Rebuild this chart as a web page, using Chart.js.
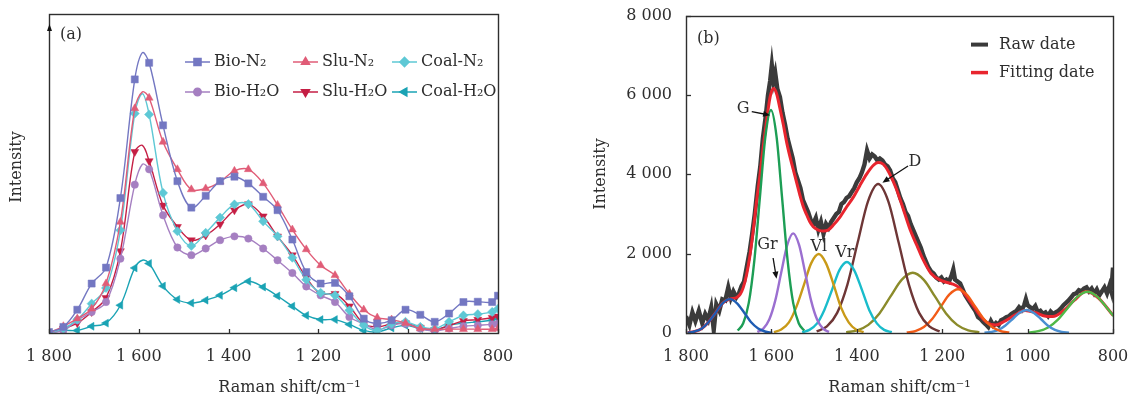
<!DOCTYPE html>
<html><head><meta charset="utf-8">
<script src="https://cdn.jsdelivr.net/npm/chart.js@4.4.1/dist/chart.umd.min.js"></script>
<style>
html,body{margin:0;padding:0;background:#fff;}
#wrap{position:relative;width:1130px;height:399px;overflow:hidden;}
#ca{position:absolute;left:0;top:0;}
#cb{position:absolute;left:560px;top:0;}
</style></head><body>
<div id="wrap">
<canvas id="ca" width="520" height="399"></canvas>
<canvas id="cb" width="570" height="399"></canvas>
</div>
<script>
// ---------------- Panel (a) data ----------------
const shiftA = [1800,1768,1737,1705,1673,1641,1609,1592,1577,1546,1514,1483,1451,1419,1387,1356,1323,1291,1258,1227,1195,1163,1131,1099,1069,1037,1006,973,941,909,877,845,813,800];
const unmarkedIndex = 7; // curve apex between two markers
const bioN2   = [0.3,1.9,7.3,15.5,20.5,42.3,79.5,87.9,84.7,65.1,47.6,39.3,43.0,47.6,49.0,46.9,42.7,38.5,29.3,19.1,15.5,15.7,11.5,4.5,3.0,4.0,7.3,5.7,3.5,6.1,9.7,9.8,9.7,11.7];
const sluN2   = [0,2.1,4.5,7.6,15.5,34.8,70.4,75.6,73.7,59.9,51.3,45.0,45.3,47.4,50.8,51.3,46.9,40.1,32.4,26.2,21.2,18.1,12.3,7.3,4.8,4.2,3.1,1.4,1.2,1.2,1.2,1.2,1.2,1.4];
const coalN2  = [0,1.4,4.2,9.2,14.1,32.2,68.8,75.0,68.5,43.9,31.9,27.3,31.4,36.2,40.3,40.4,35.0,30.3,23.6,16.7,12.6,11.8,7.1,2.4,0.8,2.9,3.5,1.9,1.4,3.5,5.5,5.9,6.6,7.6];
const bioH2O  = [0,0.8,4.0,6.6,9.7,23.3,46.5,52.9,51.3,36.9,26.8,24.4,26.5,29.1,30.3,29.6,26.5,22.8,18.8,14.6,11.8,9.7,5.0,2.9,1.0,2.4,2.9,1.4,0.6,1.4,2.1,2.4,2.7,2.9];
const sluH2O  = [0,1.4,3.1,6.6,11.0,25.7,56.8,58.8,53.9,40.0,33.3,29.1,30.6,34.1,38.5,40.4,36.6,30.3,24.4,17.4,12.3,12.3,8.4,2.9,1.9,2.9,3.1,1.7,1.0,2.3,3.8,4.2,4.8,5.2];
const coalH2O = [0,0.8,0.8,2.1,3.1,8.7,20.4,22.8,21.8,14.7,10.5,9.4,10.3,11.8,14.2,16.2,14.4,11.6,8.4,5.5,4.2,4.2,2.7,0.8,0.3,1.6,2.4,1.4,0.8,2.4,3.1,3.5,4.0,4.5];
const labelsA = ['Bio-N₂','Slu-N₂','Coal-N₂','Bio-H₂O','Slu-H₂O','Coal-H₂O'];

// ---------------- Panel (b) data ----------------
const rawShift = [1800,1792,1785,1778,1770,1762,1755,1748,1741,1735,1729,1722,1715,1708,1701,1695,1689,1682,1676,1670,1664,1658,1651,1645,1639,1632,1626,1620,1614,1608,1603,1599,1595,1591,1586,1580,1574,1568,1562,1556,1550,1544,1538,1532,1526,1520,1514,1508,1502,1496,1490,1484,1478,1472,1466,1460,1454,1448,1442,1436,1430,1424,1418,1412,1406,1400,1394,1388,1382,1376,1370,1364,1358,1352,1346,1340,1334,1328,1322,1316,1310,1304,1298,1292,1286,1280,1274,1268,1262,1256,1250,1244,1238,1232,1226,1220,1214,1208,1202,1196,1190,1184,1178,1174,1170,1164,1158,1152,1146,1140,1134,1128,1122,1116,1110,1104,1098,1092,1086,1080,1074,1068,1062,1056,1050,1044,1038,1032,1026,1020,1014,1008,1004,1000,994,988,982,976,970,964,958,952,946,940,934,928,922,916,910,904,898,892,886,880,874,868,862,856,850,844,838,832,826,820,814,808,804,800];
const rawIntensity = [420,200,520,300,560,250,480,330,640,80,720,560,850,820,1150,880,1050,900,1000,1180,1300,1650,2050,2500,3000,3700,4200,4900,5400,6000,6350,6750,6350,6550,6150,5950,5550,5250,4900,4650,4400,4050,3850,3650,3350,3200,3050,2850,2750,2900,2600,2800,2500,2750,2650,2800,2900,3000,3050,3250,3300,3400,3450,3550,3650,3800,3900,4050,4250,4600,4400,4500,4450,4350,4400,4350,4250,4200,4100,3900,3800,3600,3400,3250,3050,2950,2750,2600,2450,2300,2150,1950,1800,1650,1550,1500,1400,1350,1400,1300,1350,1300,1450,1600,1350,1300,1250,1100,950,850,750,650,550,400,350,280,220,150,300,180,250,200,320,350,400,420,480,520,560,650,580,700,850,700,650,600,680,520,560,480,520,430,540,470,520,560,620,700,760,820,900,980,1000,1080,1050,1120,1150,1050,1120,1000,1100,950,1050,1150,1000,1200,1050,1650];
const fitShift = [1796,1780,1763,1747,1730,1714,1697,1681,1673,1666,1658,1650,1642,1635,1627,1619,1611,1603,1595,1588,1580,1572,1564,1556,1549,1541,1533,1525,1517,1510,1502,1490,1478,1467,1455,1439,1424,1408,1393,1377,1361,1350,1338,1325,1308,1292,1275,1259,1247,1226,1202,1177,1161,1145,1128,1112,1096,1075,1055,1030,1006,981,957,941,916,891,863,834,800];
const fitIntensity = [9,38,115,278,519,754,855,896,979,1144,1476,1973,2636,3300,3963,4709,5372,5953,6160,6036,5662,5248,4792,4419,4129,3797,3466,3175,2968,2802,2678,2595,2570,2595,2720,2927,3175,3424,3714,4004,4228,4300,4253,4050,3650,3150,2600,2200,1900,1500,1320,1240,1150,950,700,450,270,200,290,450,570,510,420,415,560,820,1045,880,445];
const bandBlueShift   = [1598,1615,1631,1648,1664,1681,1697,1714,1730,1747,1763,1780,1796];
const bandBlueInt     = [9,38,115,278,519,754,855,754,519,278,115,38,9];
const bandGShift      = [1523,1536,1549,1562,1575,1588,1601,1614,1627,1640,1653,1666,1679];
const bandGInt        = [62,247,759,1827,3411,4957,5620,4957,3411,1827,759,247,62];
const bandGrShift     = [1465,1479,1493,1507,1521,1535,1549,1563,1577,1591,1605,1619,1633];
const bandGrInt       = [28,110,339,816,1524,2214,2510,2214,1524,816,339,110,28];
const bandVlShift     = [1384,1402,1419,1437,1454,1472,1489,1507,1524,1542,1559,1577,1594];
const bandVlInt       = [22,88,269,647,1208,1755,1990,1755,1208,647,269,88,22];
const bandVrShift     = [1318,1336,1353,1371,1388,1406,1423,1441,1458,1476,1493,1511,1528];
const bandVrInt       = [20,79,242,582,1087,1579,1790,1579,1087,582,242,79,20];
const bandDShift      = [1206,1230,1254,1278,1302,1326,1350,1374,1398,1422,1446,1470,1494];
const bandDInt        = [41,165,507,1220,2279,3312,3755,3312,2279,1220,507,165,41];
const bandOliveShift  = [1113,1139,1165,1191,1217,1243,1269,1295,1321,1347,1373,1399,1425];
const bandOliveInt    = [17,67,205,493,921,1339,1518,1339,921,493,205,67,17];
const bandOrangeShift = [1043,1063,1083,1103,1123,1143,1163,1183,1203,1223,1243,1263,1283];
const bandOrangeInt   = [12,49,149,359,670,974,1104,974,670,359,149,49,12];
const bandSkyShift    = [903,920,936,953,969,986,1002,1019,1035,1052,1068,1085,1101];
const bandSkyInt      = [6,26,78,189,353,512,581,512,353,189,78,26,6];
const bandLimeShift   = [722,745,768,791,814,837,860,883,906,929,952,975,998];
const bandLimeInt     = [11,46,140,338,631,917,1040,917,631,338,140,46,11];
const labelsB = ['Raw date','Fitting date'];
const bandNames = ['G','Gr','Vl','Vr','D'];

// ---------------- ticks ----------------
const tickShift = [1800,1600,1400,1200,1000,800];
const tickShiftLabels = ['1 800','1 600','1 400','1 200','1 000','800'];
const tickIntensity = [0,2000,4000,6000,8000];
const tickIntensityLabels = ['0','2 000','4 000','6 000','8 000'];
const axisTitleX = 'Raman shift/cm⁻¹';
const axisTitleY = 'Intensity';

// ---------------- styles ----------------
const FONT = "'DejaVu Serif','Liberation Serif',serif";
const INK = '#2e2e2e';
const stylesA = [
  {color:'#7377c2', style:'rect',     rot:0,   r:5},
  {color:'#e05c77', style:'triangle', rot:0,   r:4.6},
  {color:'#5ec8d5', style:'rectRot',  rot:0,   r:4.6},
  {color:'#a57fc1', style:'circle',   rot:0,   r:3.7},
  {color:'#c51e44', style:'triangle', rot:180, r:4.6},
  {color:'#1aa3b4', style:'triangle', rot:-90, r:4.6}
];
const seriesA = [bioN2, sluN2, coalN2, bioH2O, sluH2O, coalH2O];

function pts(xs, ys){ return xs.map((x,i)=>({x:x, y:ys[i]})); }
function tickLabel(values, labels){ return v => { const i = values.indexOf(v); return i>=0 ? labels[i] : ''; }; }

function drawPointSafe(ctx, opts, x, y){
  if (Chart.helpers && Chart.helpers.drawPoint) { Chart.helpers.drawPoint(ctx, opts, x, y); return; }
  ctx.beginPath(); ctx.arc(x,y,opts.radius,0,Math.PI*2); ctx.fill();
}
function box(ctx, a){
  ctx.save(); ctx.strokeStyle = INK; ctx.lineWidth = 1.4;
  ctx.strokeRect(Math.round(a.left)+0.5, Math.round(a.top)+0.5, Math.round(a.right-a.left), Math.round(a.bottom-a.top));
  ctx.restore();
}
function arrow(ctx, x1,y1,x2,y2){
  const ang = Math.atan2(y2-y1, x2-x1), L = 7, W = 3;
  ctx.save(); ctx.strokeStyle = '#111'; ctx.fillStyle = '#111'; ctx.lineWidth = 1.3;
  ctx.beginPath(); ctx.moveTo(x1,y1); ctx.lineTo(x2 - L*0.7*Math.cos(ang), y2 - L*0.7*Math.sin(ang)); ctx.stroke();
  ctx.beginPath(); ctx.moveTo(x2,y2);
  ctx.lineTo(x2 - L*Math.cos(ang) + W*Math.sin(ang), y2 - L*Math.sin(ang) - W*Math.cos(ang));
  ctx.lineTo(x2 - L*Math.cos(ang) - W*Math.sin(ang), y2 - L*Math.sin(ang) + W*Math.cos(ang));
  ctx.closePath(); ctx.fill(); ctx.restore();
}
function titles(ctx, xc, xy, yx, yc){
  ctx.save(); ctx.fillStyle = INK; ctx.font = '16px ' + FONT;
  ctx.textAlign = 'center'; ctx.textBaseline = 'middle';
  ctx.fillText(axisTitleX, xc, xy);
  ctx.translate(yx, yc); ctx.rotate(-Math.PI/2); ctx.fillText(axisTitleY, 0, 0);
  ctx.restore();
}
function xTicksInward(ctx, chart, len){
  const s = chart.scales.x, a = chart.chartArea;
  ctx.save(); ctx.strokeStyle = INK; ctx.lineWidth = 1.3;
  tickShift.forEach(v => { const p = Math.round(s.getPixelForValue(v))+0.5;
    ctx.beginPath(); ctx.moveTo(p, a.bottom); ctx.lineTo(p, a.bottom-len); ctx.stroke(); });
  ctx.restore();
}

const xTickFont = {color: INK, font: {family: FONT, size: 16, lineHeight: 2.0}};
const yTickFont = {color: INK, font: {family: FONT, size: 16}};

// ---------------- Chart (a) ----------------
const plugA = {
  id: 'decorA',
  afterDraw(chart){
    const ctx = chart.ctx, a = chart.chartArea;
    box(ctx, a);
    xTicksInward(ctx, chart, 4);
    // small arrow on the y axis
    ctx.save(); ctx.fillStyle = '#111';
    ctx.beginPath(); ctx.moveTo(a.left+0.5, a.top+10); ctx.lineTo(a.left-2, a.top+17); ctx.lineTo(a.left+3, a.top+17); ctx.closePath(); ctx.fill();
    ctx.restore();
    ctx.save(); ctx.fillStyle = INK; ctx.font = '16px ' + FONT; ctx.textBaseline = 'middle';
    ctx.fillText('(a)', a.left+11, a.top+21);
    // legend 3 x 2
    const cols = [136, 244, 343], rows = [48, 78];
    labelsA.forEach((lab, i) => {
      const st = stylesA[i], cx = a.left + cols[i%3], cy = a.top + rows[Math.floor(i/3)];
      ctx.strokeStyle = st.color; ctx.fillStyle = st.color; ctx.lineWidth = 1.5;
      ctx.beginPath(); ctx.moveTo(cx, cy); ctx.lineTo(cx+25, cy); ctx.stroke();
      drawPointSafe(ctx, {pointStyle: st.style, rotation: st.rot, radius: st.r, borderWidth: 0.5}, cx+12.5, cy);
      ctx.fillStyle = INK; ctx.fillText(lab, cx+29, cy);
    });
    ctx.restore();
    titles(ctx, 289.5, 388, 17, 167);
  }
};

new Chart(document.getElementById('ca'), {
  type: 'line',
  data: {
    datasets: seriesA.map((vals, i) => ({
      label: labelsA[i],
      data: pts(shiftA, vals),
      borderColor: stylesA[i].color,
      backgroundColor: stylesA[i].color,
      borderWidth: 1.4,
      tension: 0.35,
      pointStyle: stylesA[i].style,
      pointRotation: stylesA[i].rot,
      pointRadius: c => c.dataIndex === unmarkedIndex ? 0 : stylesA[i].r,
      pointBackgroundColor: stylesA[i].color,
      pointBorderColor: stylesA[i].color,
      pointBorderWidth: 0.5
    }))
  },
  options: {
    responsive: false, animation: false, devicePixelRatio: 1, events: [],
    layout: {padding: {left: 0, top: 14, right: 22, bottom: 0}},
    plugins: {legend: {display: false}, tooltip: {enabled: false}},
    scales: {
      x: {type: 'linear', min: 800, max: 1800, reverse: true,
          grid: {display: false}, border: {display: false},
          ticks: {...xTickFont, stepSize: 200, padding: 0, autoSkip: false, maxRotation: 0, callback: tickLabel(tickShift, tickShiftLabels)},
          afterFit: s => { s.height = 66; }},
      y: {type: 'linear', min: 0, max: 100,
          grid: {display: false}, border: {display: false},
          ticks: {display: false},
          afterFit: s => { s.width = 49; }}
    }
  },
  plugins: [plugA]
});

// ---------------- Chart (b) ----------------
const bands = [
  [bandBlueShift, bandBlueInt, '#1f5db3'],
  [bandGShift, bandGInt, '#1d9e55'],
  [bandGrShift, bandGrInt, '#9b6fd0'],
  [bandVlShift, bandVlInt, '#c99a18'],
  [bandVrShift, bandVrInt, '#19bccb'],
  [bandDShift, bandDInt, '#6e3636'],
  [bandOliveShift, bandOliveInt, '#8b8b2b'],
  [bandOrangeShift, bandOrangeInt, '#f25b17'],
  [bandSkyShift, bandSkyInt, '#4a8fd2'],
  [bandLimeShift, bandLimeInt, '#4fb948']
];

const plugB = {
  id: 'decorB',
  afterDraw(chart){
    const ctx = chart.ctx, a = chart.chartArea, xs = chart.scales.x, ys = chart.scales.y;
    box(ctx, a);
    xTicksInward(ctx, chart, 4);
    ctx.save(); ctx.strokeStyle = INK; ctx.lineWidth = 1.3;
    tickIntensity.forEach(v => { const p = Math.round(ys.getPixelForValue(v))+0.5;
      ctx.beginPath(); ctx.moveTo(a.left, p); ctx.lineTo(a.left+5, p); ctx.stroke(); });
    ctx.restore();
    ctx.save(); ctx.fillStyle = INK; ctx.font = '16px ' + FONT; ctx.textBaseline = 'middle';
    ctx.fillText('(b)', a.left+11, a.top+23);
    // legend
    const lx = a.right - 142;
    [['#3a3a3a', 4, 29], ['#e8252e', 3.5, 57]].forEach((e, i) => {
      ctx.strokeStyle = e[0]; ctx.lineWidth = e[1];
      ctx.beginPath(); ctx.moveTo(lx, a.top + e[2]); ctx.lineTo(lx+17, a.top + e[2]); ctx.stroke();
      ctx.fillStyle = INK; ctx.fillText(labelsB[i], lx+28, a.top + e[2]);
    });
    // band annotations (positions in data coordinates)
    const P = (x, y) => [xs.getPixelForValue(x), ys.getPixelForValue(y)];
    ctx.textAlign = 'center';
    let p;
    p = P(1666, 5640); ctx.fillText(bandNames[0], p[0], p[1]);
    p = P(1609, 2210); ctx.fillText(bandNames[1], p[0], p[1]);
    p = P(1489, 2180); ctx.fillText(bandNames[2], p[0], p[1]);
    p = P(1428, 2010); ctx.fillText(bandNames[3], p[0], p[1]);
    p = P(1264, 4320); ctx.fillText(bandNames[4], p[0], p[1]);
    ctx.restore();
    let s, e;
    s = P(1646, 5580); e = P(1603, 5490); arrow(ctx, s[0], s[1], e[0], e[1]);
    s = P(1596, 1890); e = P(1588, 1370); arrow(ctx, s[0], s[1], e[0], e[1]);
    s = P(1280, 4210); e = P(1340, 3790); arrow(ctx, s[0], s[1], e[0], e[1]);
    titles(ctx, 339.5, 388, 41, 174);
  }
};

const dsB = [];
bands.forEach(b => dsB.push({
  data: pts(b[0], b[1]), borderColor: b[2], borderWidth: 2.4,
  cubicInterpolationMode: 'monotone', pointRadius: 0, order: 0
}));
dsB.push({label: labelsB[1], data: pts(fitShift, fitIntensity), borderColor: '#e8252e', borderWidth: 3,
  cubicInterpolationMode: 'monotone', pointRadius: 0, order: 1});
dsB.push({label: labelsB[0], data: pts(rawShift, rawIntensity), borderColor: '#3b3b3b', borderWidth: 4.4,
  tension: 0, pointRadius: 0, order: 2});

new Chart(document.getElementById('cb'), {
  type: 'line',
  data: {datasets: dsB},
  options: {
    responsive: false, animation: false, devicePixelRatio: 1, events: [],
    layout: {padding: {left: 0, top: 11, right: 17, bottom: 0}},
    plugins: {legend: {display: false}, tooltip: {enabled: false}},
    scales: {
      x: {type: 'linear', min: 800, max: 1800, reverse: true,
          grid: {display: false}, border: {display: false},
          ticks: {...xTickFont, stepSize: 200, padding: 0, autoSkip: false, maxRotation: 0, callback: tickLabel(tickShift, tickShiftLabels)},
          afterFit: s => { s.height = 66; }},
      y: {type: 'linear', min: 0, max: 8000,
          grid: {display: false}, border: {display: false},
          ticks: {...yTickFont, stepSize: 2000, padding: 6, autoSkip: false, callback: tickLabel(tickIntensity, tickIntensityLabels)},
          afterFit: s => { s.width = 126; }}
    }
  },
  plugins: [plugB]
});
</script>
</body></html>
